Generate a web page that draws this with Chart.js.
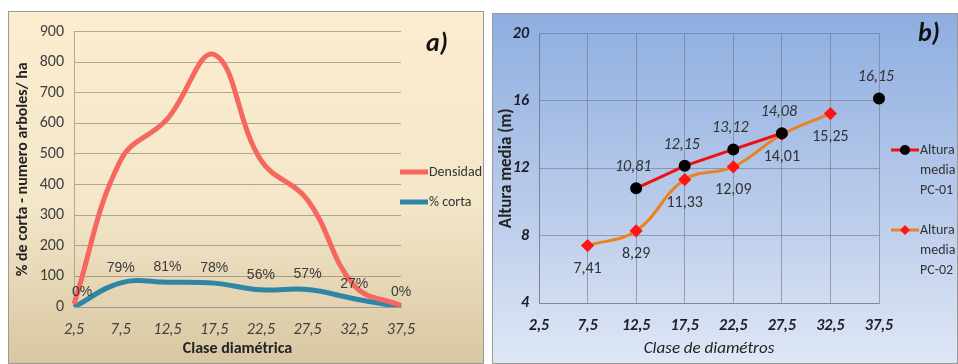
<!DOCTYPE html>
<html>
<head>
<meta charset="utf-8">
<script src="https://cdn.jsdelivr.net/npm/chart.js@4.4.0/dist/chart.umd.min.js"></script>
<style>
  html, body { margin: 0; padding: 0; background: #fff; }
  body { width: 958px; height: 364px; position: relative; overflow: hidden; }
  .panel { position: absolute; box-sizing: border-box; border: 1px solid #9a9a9a; }
  #panelA { left: 8px; top: 11px; width: 476px; height: 353px;
            background: linear-gradient(to bottom, #fdedd0 0%, #f3e6c9 55%, #d8c7a2 100%); }
  #panelB { left: 492px; top: 13px; width: 466px; height: 351px;
            background: linear-gradient(to bottom, #8eaee0 0%, #b9cbea 55%, #dfe7f5 100%); }
  canvas { position: absolute; left: 0; top: 0; }
</style>
</head>
<body>
<div class="panel" id="panelA"><canvas id="chartA" width="474" height="351"></canvas></div>
<div class="panel" id="panelB"><canvas id="chartB" width="464" height="349"></canvas></div>
<script>
const FONT = 'Carlito, "Liberation Sans Narrow", "Open Sans", sans-serif';

// chart a) densidad y % de corta
const clasesA = ['2,5', '7,5', '12,5', '17,5', '22,5', '27,5', '32,5', '37,5'];
const densidad = [10, 480, 615, 825, 480, 350, 70, 5];
const corta = [0, 79, 81, 78, 56, 57, 27, 0];

// chart b) altura media
const clasesB = ['2,5', '7,5', '12,5', '17,5', '22,5', '27,5', '32,5', '37,5'];
const alturaPC01 = [null, null, 10.81, 12.15, 13.12, 14.08, null, 16.15];
const alturaPC02 = [null, 7.41, 8.29, 11.33, 12.09, 14.01, 15.25, null];

const comma = v => v == null ? null : v.toFixed(2).replace('.', ',');

// draws value labels next to points
const pointLabels = {
    id: 'pointLabels',
    afterDatasetsDraw(chart) {
        const ctx = chart.ctx;
        chart.data.datasets.forEach((ds, i) => {
            if (!ds.valueLabels) return;
            const meta = chart.getDatasetMeta(i);
            ctx.save();
            ctx.font = ds.labelFont;
            ctx.fillStyle = ds.labelColor || '#404040';
            ctx.textAlign = 'center';
            ctx.textBaseline = 'middle';
            meta.data.forEach((pt, j) => {
                const txt = ds.valueLabels[j];
                if (txt == null) return;
                const dx = (ds.labelDxFirst != null && j === 0) ? ds.labelDxFirst : (ds.labelDx || 0);
                ctx.fillText(txt, pt.x + dx, pt.y + ds.labelDy);
            });
            ctx.restore();
        });
    }
};

// legend at the right side plus panel tag
const sideLegend = {
    id: 'sideLegend',
    afterDraw(chart, args, opts) {
        const ctx = chart.ctx;
        ctx.save();
        chart.data.datasets.forEach((ds, i) => {
            const y = opts.y0 + i * opts.gap;
            ctx.strokeStyle = ds.borderColor;
            ctx.lineWidth = opts.lineWidth;
            ctx.beginPath();
            ctx.moveTo(opts.x, y);
            ctx.lineTo(opts.x + opts.len, y);
            ctx.stroke();
            if (opts.marker) {
                const mx = opts.x + opts.len / 2;
                ctx.fillStyle = ds.pointBackgroundColor;
                ctx.beginPath();
                if (ds.pointStyle === 'rectRot') {
                    ctx.moveTo(mx, y - 5); ctx.lineTo(mx + 5, y);
                    ctx.lineTo(mx, y + 5); ctx.lineTo(mx - 5, y);
                } else {
                    ctx.arc(mx, y, 5, 0, Math.PI * 2);
                }
                ctx.fill();
            }
            ctx.font = opts.font;
            ctx.fillStyle = '#333';
            ctx.textAlign = 'left';
            ctx.textBaseline = 'middle';
            const lines = opts.wrap ? ds.label.split(' ') : [ds.label];
            lines.forEach((t, k) => ctx.fillText(t, opts.x + opts.len + 1, y + k * opts.lineHeight));
        });
        ctx.font = opts.tagFont;
        ctx.fillStyle = '#111';
        ctx.textAlign = 'center';
        ctx.textBaseline = 'middle';
        ctx.fillText(opts.tag, opts.tagX, opts.tagY);
        ctx.restore();
    }
};

new Chart(document.getElementById('chartA').getContext('2d'), {
    type: 'line',
    data: {
        labels: clasesA,
        datasets: [
            {
                label: 'Densidad',
                data: densidad,
                borderColor: '#f5675f',
                borderWidth: 5,
                tension: 0.4,
                pointRadius: 0,
                fill: false
            },
            {
                label: '% corta',
                data: corta,
                borderColor: '#2f86a4',
                borderWidth: 5,
                tension: 0.4,
                pointRadius: 0,
                fill: false,
                valueLabels: corta.map(v => v + '%'),
                labelFont: '14px "Liberation Sans Narrow", "Liberation Sans", sans-serif',
                labelColor: '#3a3a3a',
                labelDy: -15,
                labelDxFirst: 8
            }
        ]
    },
    options: {
        responsive: false,
        animation: false,
        layout: { padding: { left: 0, top: 19, right: 82, bottom: 0 } },
        plugins: {
            legend: { display: false },
            tooltip: { enabled: false },
            sideLegend: {
                x: 391, y0: 160, gap: 30, len: 28, lineWidth: 5, lineHeight: 18,
                font: '14px ' + FONT, wrap: false, marker: false,
                tag: 'a)', tagX: 428, tagY: 32, tagFont: 'italic bold 26px ' + FONT
            }
        },
        scales: {
            x: {
                afterFit(s) { s.height = 56; },
                offset: false,
                grid: { display: false, drawTicks: false },
                border: { color: '#9a9a9a' },
                ticks: { color: '#404040', padding: 13, maxRotation: 0,
                         font: { family: FONT, size: 16, style: 'italic' } },
                title: { display: true, text: 'Clase diamétrica', color: '#222',
                         font: { family: FONT, size: 16, weight: 'bold' } }
            },
            y: {
                afterFit(s) { s.width = 65; },
                min: 0, max: 900,
                ticks: { stepSize: 100, color: '#404040', padding: 10,
                         font: { family: FONT, size: 16 } },
                grid: { color: 'rgba(120,112,100,0.55)', drawTicks: false },
                border: { color: '#b0a890' },
                title: { display: true, text: '% de corta - numero arboles/ ha', color: '#222',
                         font: { family: FONT, size: 16, weight: 'bold' } }
            }
        }
    },
    plugins: [pointLabels, sideLegend]
});

new Chart(document.getElementById('chartB').getContext('2d'), {
    type: 'line',
    data: {
        labels: clasesB,
        datasets: [
            {
                label: 'Altura media PC-01',
                data: alturaPC01,
                borderColor: '#ee1111',
                borderWidth: 3,
                tension: 0,
                spanGaps: false,
                pointStyle: 'circle',
                pointRadius: 4.5,
                pointBackgroundColor: '#000',
                pointBorderColor: '#000',
                valueLabels: alturaPC01.map(comma),
                labelFont: 'italic 16px ' + FONT,
                labelColor: '#333',
                labelDx: -3,
                labelDy: -21
            },
            {
                label: 'Altura media PC-02',
                data: alturaPC02,
                borderColor: '#e8831f',
                borderWidth: 3,
                tension: 0.4,
                spanGaps: false,
                pointStyle: 'rectRot',
                pointRadius: 4.5,
                pointBackgroundColor: '#ff1515',
                pointBorderColor: '#ff1515',
                valueLabels: alturaPC02.map(comma),
                labelFont: '16px ' + FONT,
                labelColor: '#333',
                labelDx: 0,
                labelDy: 23
            }
        ]
    },
    options: {
        responsive: false,
        animation: false,
        layout: { padding: { left: 0, top: 19, right: 78, bottom: 0 } },
        plugins: {
            legend: { display: false },
            tooltip: { enabled: false },
            sideLegend: {
                x: 398, y0: 136, gap: 80, len: 28, lineWidth: 3, lineHeight: 20,
                font: '14px ' + FONT, wrap: true, marker: true,
                tag: 'b)', tagX: 436, tagY: 20, tagFont: 'italic bold 26px ' + FONT
            }
        },
        scales: {
            x: {
                afterFit(s) { s.height = 60; },
                offset: false,
                grid: { color: 'rgba(110,118,130,0.6)', drawTicks: false },
                border: { color: 'rgba(110,118,130,0.6)' },
                ticks: { color: '#1e1e2a', padding: 13, maxRotation: 0,
                         font: { family: FONT, size: 16, style: 'italic', weight: 'bold' } },
                title: { display: true, text: 'Clase de diamétros', color: '#222',
                         font: { family: FONT, size: 17, style: 'italic' } }
            },
            y: {
                afterFit(s) { s.width = 46; },
                min: 4, max: 20,
                ticks: { stepSize: 4, color: '#1e1e2a', padding: 10,
                         font: { family: FONT, size: 16, style: 'italic', weight: 'bold' } },
                grid: { color: 'rgba(110,118,130,0.6)', drawTicks: false },
                border: { color: 'rgba(110,118,130,0.6)' },
                title: { display: true, text: 'Altura media (m)', color: '#222',
                         font: { family: FONT, size: 17, weight: 'bold' } }
            }
        }
    },
    plugins: [pointLabels, sideLegend]
});
</script>
</body>
</html>
